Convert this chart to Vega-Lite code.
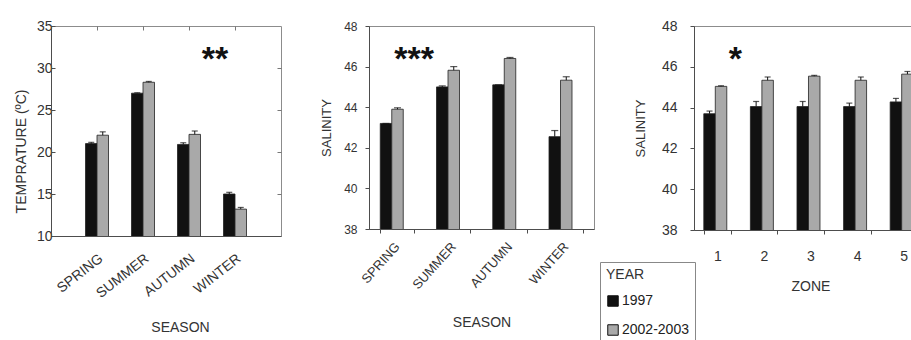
{
  "$schema": "https://vega.github.io/schema/vega-lite/v6.json",
  "padding": {"left": 13, "top": 18, "right": 0, "bottom": 0},
  "background": "white",
  "config": {
    "font": "Liberation Sans",
    "view": {"stroke": "#8c8c8c", "strokeWidth": 1},
    "axis": {
      "grid": false,
      "domainColor": "#4d4d4d",
      "tickColor": "#4d4d4d",
      "labelColor": "#333333",
      "titleColor": "#333333",
      "titleFontWeight": "normal",
      "labelFont": "Liberation Sans",
      "titleFont": "Liberation Sans"
    },
    "legend": {
      "orient": "none",
      "symbolType": "square",
      "symbolSize": 110,
      "symbolStrokeColor": "#111111",
      "symbolStrokeWidth": 1,
      "symbolOpacity": 1,
      "labelFontSize": 14,
      "labelColor": "#222222",
      "labelOffset": 2,
      "titleFontSize": 14,
      "titleFontWeight": "normal",
      "titleColor": "#333333",
      "titlePadding": 12,
      "strokeColor": "#888888",
      "padding": 6,
      "rowPadding": 13
    }
  },
  "datasets": {
    "temperature": [
      {"season": "SPRING", "year": "1997", "mean": 21.0, "upper": 21.15},
      {"season": "SPRING", "year": "2002-2003", "mean": 22.0, "upper": 22.4},
      {"season": "SUMMER", "year": "1997", "mean": 27.0, "upper": 27.05},
      {"season": "SUMMER", "year": "2002-2003", "mean": 28.3, "upper": 28.4},
      {"season": "AUTUMN", "year": "1997", "mean": 20.9, "upper": 21.1},
      {"season": "AUTUMN", "year": "2002-2003", "mean": 22.1, "upper": 22.5},
      {"season": "WINTER", "year": "1997", "mean": 15.0, "upper": 15.2},
      {"season": "WINTER", "year": "2002-2003", "mean": 13.2, "upper": 13.4}
    ],
    "salinitySeason": [
      {"season": "SPRING", "year": "1997", "mean": 43.2, "upper": 43.2},
      {"season": "SPRING", "year": "2002-2003", "mean": 43.9, "upper": 43.97},
      {"season": "SUMMER", "year": "1997", "mean": 45.0, "upper": 45.05},
      {"season": "SUMMER", "year": "2002-2003", "mean": 45.82, "upper": 46.0},
      {"season": "AUTUMN", "year": "1997", "mean": 45.1, "upper": 45.1},
      {"season": "AUTUMN", "year": "2002-2003", "mean": 46.4, "upper": 46.45},
      {"season": "WINTER", "year": "1997", "mean": 42.55, "upper": 42.85},
      {"season": "WINTER", "year": "2002-2003", "mean": 45.33, "upper": 45.5}
    ],
    "salinityZone": [
      {"zone": "1", "year": "1997", "mean": 43.7, "upper": 43.83},
      {"zone": "1", "year": "2002-2003", "mean": 45.04, "upper": 45.07},
      {"zone": "2", "year": "1997", "mean": 44.05, "upper": 44.3},
      {"zone": "2", "year": "2002-2003", "mean": 45.34, "upper": 45.5},
      {"zone": "3", "year": "1997", "mean": 44.05, "upper": 44.3},
      {"zone": "3", "year": "2002-2003", "mean": 45.54, "upper": 45.58},
      {"zone": "4", "year": "1997", "mean": 44.05, "upper": 44.22},
      {"zone": "4", "year": "2002-2003", "mean": 45.34, "upper": 45.5},
      {"zone": "5", "year": "1997", "mean": 44.28, "upper": 44.45},
      {"zone": "5", "year": "2002-2003", "mean": 45.64, "upper": 45.77}
    ]
  },
  "spacing": 38,
  "hconcat": [
    {
      "width": 230,
      "height": 210,
      "resolve": {"axis": {"x": "independent", "y": "independent"}},
      "layer": [
        {
          "data": {"name": "temperature"},
          "mark": {"type": "bar", "stroke": "#222222", "strokeWidth": 0.8, "clip": true},
          "encoding": {
            "x": {
              "field": "season", "type": "nominal",
              "sort": ["SPRING", "SUMMER", "AUTUMN", "WINTER"],
              "scale": {"paddingInner": 0.5, "paddingOuter": 0.75},
              "axis": {
                "orient": "bottom",
                "title": "SEASON", "titleFontSize": 14, "titlePadding": 20, "titleX": 129,
                "labelAngle": -38, "labelFontSize": 14, "ticks": false, "labelPadding": 15
              }
            },
            "xOffset": {"field": "year", "type": "nominal", "scale": {"paddingInner": 0, "paddingOuter": 0}},
            "y": {
              "field": "mean", "type": "quantitative",
              "scale": {"domain": [10, 35], "nice": false, "zero": false},
              "axis": {
                "orient": "left",
                "title": "TEMPRATURE (ºC)", "titleFontSize": 14, "titlePadding": 8, "titleY": 125,
                "values": [10, 15, 20, 25, 30, 35], "tickSize": -4, "labelPadding": 3, "labelFontSize": 14
              }
            },
            "fill": {
              "field": "year", "type": "nominal",
              "scale": {"domain": ["1997", "2002-2003"], "range": ["#111111", "#a9a9a9"]},
              "legend": {"title": "YEAR", "legendX": 549, "legendY": 236}
            }
          }
        },
        {
          "data": {"name": "temperature"},
          "mark": {"type": "rule", "color": "#111111", "strokeWidth": 1},
          "encoding": {
            "x": {"field": "season", "type": "nominal", "sort": ["SPRING", "SUMMER", "AUTUMN", "WINTER"], "axis": null},
            "xOffset": {"field": "year", "type": "nominal"},
            "y": {"field": "mean", "type": "quantitative", "scale": {"domain": [10, 35], "nice": false, "zero": false}, "axis": null},
            "y2": {"field": "upper"}
          }
        },
        {
          "data": {"name": "temperature"},
          "mark": {"type": "tick", "color": "#111111", "thickness": 1.2, "size": 6},
          "encoding": {
            "x": {"field": "season", "type": "nominal", "sort": ["SPRING", "SUMMER", "AUTUMN", "WINTER"], "axis": null},
            "xOffset": {"field": "year", "type": "nominal"},
            "y": {"field": "upper", "type": "quantitative", "scale": {"domain": [10, 35], "nice": false, "zero": false}, "axis": null}
          }
        },
        {
          "data": {"values": [{"season": "WINTER", "level": 29.8, "stars": "**"}]},
          "mark": {"type": "text", "fontSize": 34, "fontWeight": "bold", "dx": -20, "baseline": "alphabetic", "color": "#111111"},
          "encoding": {
            "x": {
              "field": "season", "type": "nominal", "sort": ["SPRING", "SUMMER", "AUTUMN", "WINTER"],
              "axis": {"orient": "top", "title": null, "labels": false, "domain": false, "tickSize": -4, "tickColor": "#777777"}
            },
            "y": {
              "field": "level", "type": "quantitative", "scale": {"domain": [10, 35], "nice": false, "zero": false},
              "axis": {"orient": "right", "title": null, "labels": false, "domain": false, "values": [15, 20, 25, 30], "tickSize": -4, "tickColor": "#777777"}
            },
            "text": {"field": "stars"}
          }
        }
      ]
    },
    {
      "width": 225,
      "height": 203,
      "layer": [
        {
          "data": {"name": "salinitySeason"},
          "mark": {"type": "bar", "stroke": "#222222", "strokeWidth": 0.8, "clip": true},
          "encoding": {
            "x": {
              "field": "season", "type": "nominal",
              "sort": ["SPRING", "SUMMER", "AUTUMN", "WINTER"],
              "scale": {"paddingInner": 0.4, "paddingOuter": 0.2},
              "axis": {
                "title": "SEASON", "titleFontSize": 14, "titlePadding": 24,
                "labelAngle": -48, "labelFontSize": 13, "tickBand": "extent", "tickSize": 4, "labelPadding": 11
              }
            },
            "xOffset": {"field": "year", "type": "nominal", "scale": {"paddingInner": 0, "paddingOuter": 0}},
            "y": {
              "field": "mean", "type": "quantitative",
              "scale": {"domain": [38, 48], "nice": false, "zero": false},
              "axis": {
                "title": "SALINITY", "titleFontSize": 13, "titlePadding": 10,
                "values": [38, 40, 42, 44, 46, 48], "tickSize": 4, "labelPadding": 8, "labelFontSize": 12
              }
            },
            "fill": {
              "field": "year", "type": "nominal",
              "scale": {"domain": ["1997", "2002-2003"], "range": ["#111111", "#a9a9a9"]},
              "legend": {"title": "YEAR", "legendX": 549, "legendY": 236}
            }
          }
        },
        {
          "data": {"name": "salinitySeason"},
          "mark": {"type": "rule", "color": "#111111", "strokeWidth": 1},
          "encoding": {
            "x": {"field": "season", "type": "nominal", "sort": ["SPRING", "SUMMER", "AUTUMN", "WINTER"]},
            "xOffset": {"field": "year", "type": "nominal"},
            "y": {"field": "mean", "type": "quantitative", "scale": {"domain": [38, 48], "nice": false, "zero": false}},
            "y2": {"field": "upper"}
          }
        },
        {
          "data": {"name": "salinitySeason"},
          "mark": {"type": "tick", "color": "#111111", "thickness": 1.2, "size": 7},
          "encoding": {
            "x": {"field": "season", "type": "nominal", "sort": ["SPRING", "SUMMER", "AUTUMN", "WINTER"]},
            "xOffset": {"field": "year", "type": "nominal"},
            "y": {"field": "upper", "type": "quantitative", "scale": {"domain": [38, 48], "nice": false, "zero": false}}
          }
        },
        {
          "data": {"values": [{"season": "SPRING", "level": 45.83, "stars": "***"}]},
          "mark": {"type": "text", "fontSize": 34, "fontWeight": "bold", "dx": 17, "baseline": "alphabetic", "color": "#111111"},
          "encoding": {
            "x": {"field": "season", "type": "nominal", "sort": ["SPRING", "SUMMER", "AUTUMN", "WINTER"]},
            "y": {"field": "level", "type": "quantitative", "scale": {"domain": [38, 48], "nice": false, "zero": false}},
            "text": {"field": "stars"}
          }
        }
      ]
    },
    {
      "width": 233,
      "height": 204,
      "layer": [
        {
          "data": {"name": "salinityZone"},
          "mark": {"type": "bar", "stroke": "#222222", "strokeWidth": 0.8, "clip": true},
          "encoding": {
            "x": {
              "field": "zone", "type": "ordinal",
              "scale": {"paddingInner": 0.42, "paddingOuter": 0.21},
              "axis": {
                "title": "ZONE", "titleFontSize": 14, "titlePadding": 16,
                "labelAngle": 0, "labelFontSize": 14, "tickBand": "extent", "tickSize": 4, "labelPadding": 15
              }
            },
            "xOffset": {"field": "year", "type": "nominal", "scale": {"paddingInner": 0, "paddingOuter": 0}},
            "y": {
              "field": "mean", "type": "quantitative",
              "scale": {"domain": [38, 48], "nice": false, "zero": false},
              "axis": {
                "title": "SALINITY", "titleFontSize": 13, "titlePadding": 14,
                "values": [38, 40, 42, 44, 46, 48], "tickSize": 4, "labelPadding": 13, "labelFontSize": 14
              }
            },
            "fill": {
              "field": "year", "type": "nominal",
              "scale": {"domain": ["1997", "2002-2003"], "range": ["#111111", "#a9a9a9"]},
              "legend": {"title": "YEAR", "legendX": 549, "legendY": 236}
            }
          }
        },
        {
          "data": {"name": "salinityZone"},
          "mark": {"type": "rule", "color": "#111111", "strokeWidth": 1},
          "encoding": {
            "x": {"field": "zone", "type": "ordinal"},
            "xOffset": {"field": "year", "type": "nominal"},
            "y": {"field": "mean", "type": "quantitative", "scale": {"domain": [38, 48], "nice": false, "zero": false}},
            "y2": {"field": "upper"}
          }
        },
        {
          "data": {"name": "salinityZone"},
          "mark": {"type": "tick", "color": "#111111", "thickness": 1.2, "size": 6},
          "encoding": {
            "x": {"field": "zone", "type": "ordinal"},
            "xOffset": {"field": "year", "type": "nominal"},
            "y": {"field": "upper", "type": "quantitative", "scale": {"domain": [38, 48], "nice": false, "zero": false}}
          }
        },
        {
          "data": {"values": [{"zone": "1", "level": 45.84, "stars": "*"}]},
          "mark": {"type": "text", "fontSize": 34, "fontWeight": "bold", "dx": 18, "baseline": "alphabetic", "color": "#111111"},
          "encoding": {
            "x": {"field": "zone", "type": "ordinal"},
            "y": {"field": "level", "type": "quantitative", "scale": {"domain": [38, 48], "nice": false, "zero": false}},
            "text": {"field": "stars"}
          }
        }
      ]
    }
  ]
}
